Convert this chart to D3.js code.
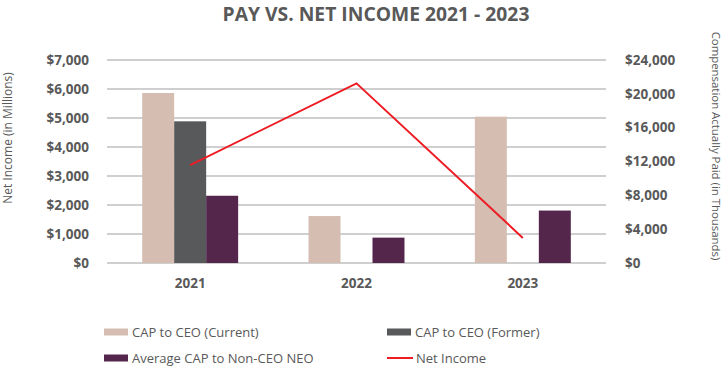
<!DOCTYPE html>
<html>
<head>
<meta charset="utf-8">
<script src="https://cdn.jsdelivr.net/npm/d3@7"></script>
<style>
  body { margin: 0; background: #fff; }
  text { font-family: "Open Sans", sans-serif; fill: #595959; }
</style>
</head>
<body>
<svg id="chart" width="724" height="367"></svg>
<script>
// chart data
const years = ['2021', '2022', '2023'];
const seriesNames = ['CAP to CEO (Current)', 'CAP to CEO (Former)', 'Average CAP to Non-CEO NEO'];
const capCurrent = [20100, 5550, 17300];     // thousands, right axis
const capFormer = [16750, null, null];
const avgNonCeo = [7950, 3000, 6200];
const netIncome = [3375, 6195, 865];          // millions, left axis
const leftTicks = [0, 1000, 2000, 3000, 4000, 5000, 6000, 7000];
const rightTicks = [0, 4000, 8000, 12000, 16000, 20000, 24000];

const colors = ['#d5bdb1', '#58595b', '#54264c'];
const lineColor = '#ed1c24';

let svg = d3.select('#chart');
let margin = {top: 60, bottom: 263, left: 107, right: 606};

let x0 = d3.scaleBand().domain(years).range([margin.left, margin.right]);
let x1 = d3.scaleBand().domain(seriesNames).range([0, x0.bandwidth()]).paddingOuter(1.1);
let yLeft = d3.scaleLinear().domain([0, 7000]).range([margin.bottom, margin.top]);
let yRight = d3.scaleLinear().domain([0, 24000]).range([margin.bottom, margin.top]);
let fmt = d => '$' + d3.format(',')(d);

// title
svg.append('text')
    .attr('x', 376).attr('y', 21)
    .attr('text-anchor', 'middle')
    .style('font-size', '19.3px').style('font-weight', 'bold')
    .text('PAY VS. NET INCOME 2021 - 2023');

// gridlines
svg.append('g').selectAll('line')
    .data(leftTicks)
    .join('line')
    .attr('x1', margin.left).attr('x2', margin.right)
    .attr('y1', d => yLeft(d)).attr('y2', d => yLeft(d))
    .attr('stroke', '#bfbfbf').attr('stroke-width', 1.3);

// left axis
let gl = svg.append('g')
    .attr('transform', `translate(${margin.left},0)`)
    .call(d3.axisLeft(yLeft).tickValues(leftTicks).tickFormat(fmt).tickSize(0).tickPadding(18));
gl.select('.domain').remove();
gl.selectAll('text').style('font-size', '13.5px').style('font-weight', 'bold').attr('fill', '#595959');

// right axis
let gr = svg.append('g')
    .attr('transform', `translate(${margin.right},0)`)
    .call(d3.axisRight(yRight).tickValues(rightTicks).tickFormat(fmt).tickSize(0).tickPadding(19));
gr.select('.domain').remove();
gr.selectAll('text').style('font-size', '13.5px').style('font-weight', 'bold').attr('fill', '#595959');

// x axis labels
let gx = svg.append('g')
    .attr('transform', `translate(0,${margin.bottom})`)
    .call(d3.axisBottom(x0).tickSize(0).tickPadding(15));
gx.select('.domain').remove();
gx.selectAll('text').style('font-size', '13.5px').style('font-weight', 'bold').attr('fill', '#595959');

// axis titles
svg.append('text')
    .attr('transform', 'translate(12,138) rotate(-90)')
    .attr('text-anchor', 'middle')
    .style('font-size', '12px')
    .text('Net Income (in Millions)');
svg.append('text')
    .attr('transform', 'translate(712,146) rotate(90)')
    .attr('text-anchor', 'middle')
    .style('font-size', '11.4px')
    .text('Compensation Actually Paid (in Thousands)');

// bars
let barData = [capCurrent, capFormer, avgNonCeo];
years.forEach((yr, i) => {
    let g = svg.append('g').attr('transform', `translate(${x0(yr)},0)`);
    g.selectAll('rect')
        .data(seriesNames.map((s, k) => ({s: s, v: barData[k][i], c: colors[k]})).filter(d => d.v != null))
        .join('rect')
        .attr('x', d => x1(d.s))
        .attr('width', x1.bandwidth())
        .attr('y', d => yRight(d.v))
        .attr('height', d => yRight(0) - yRight(d.v))
        .attr('fill', d => d.c);
});

// net income line
let line = d3.line()
    .x((d, i) => x0(years[i]) + x0.bandwidth() / 2)
    .y(d => yLeft(d));
svg.append('path')
    .datum(netIncome)
    .attr('fill', 'none')
    .attr('stroke', lineColor)
    .attr('stroke-width', 2)
    .attr('d', line);

// legend
let legend = [
    {name: seriesNames[0], color: colors[0], x: 104, y: 332, type: 'rect'},
    {name: seriesNames[1], color: colors[1], x: 387, y: 332, type: 'rect'},
    {name: seriesNames[2], color: colors[2], x: 104, y: 358, type: 'rect'},
    {name: 'Net Income', color: lineColor, x: 387, y: 358, type: 'line'}
];
let lg = svg.append('g').selectAll('g').data(legend).join('g')
    .attr('transform', d => `translate(${d.x},${d.y})`);
lg.filter(d => d.type === 'rect').append('rect')
    .attr('x', 0).attr('y', -3.5).attr('width', 24).attr('height', 7)
    .attr('fill', d => d.color);
lg.filter(d => d.type === 'line').append('line')
    .attr('x1', 0).attr('x2', 26).attr('y1', 0).attr('y2', 0)
    .attr('stroke', d => d.color).attr('stroke-width', 2);
lg.append('text')
    .attr('x', d => d.type === 'rect' ? 28 : 29)
    .attr('y', 4.5)
    .style('font-size', '13px')
    .text(d => d.name);
</script>
</body>
</html>
